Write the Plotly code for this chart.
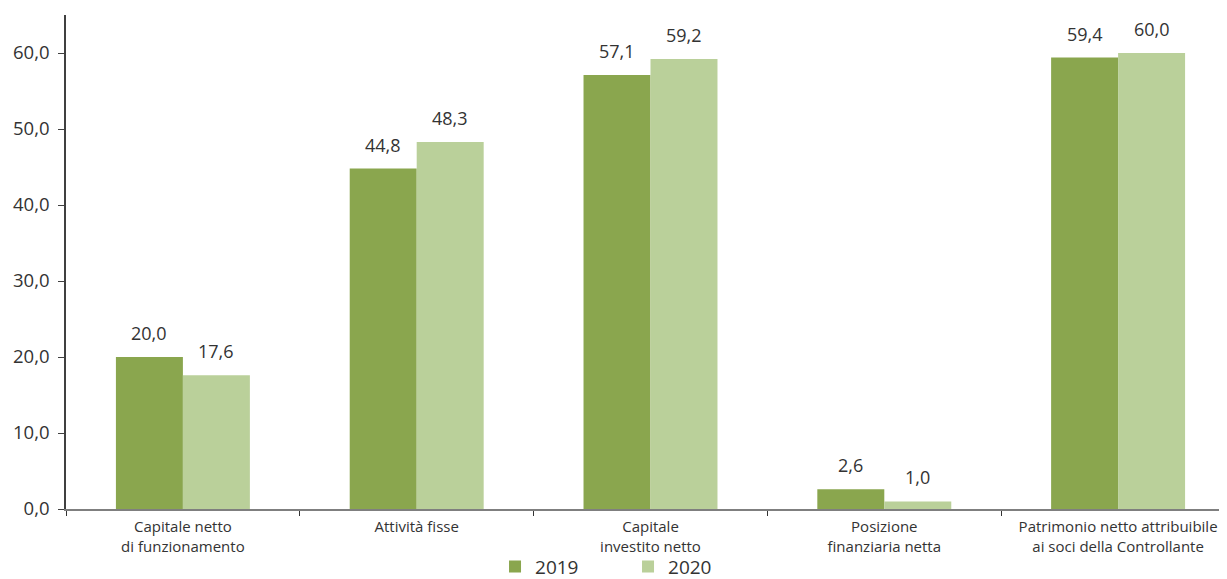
import plotly.graph_objects as go

categories = ["Capitale netto<br>di funzionamento", "Attività fisse",
              "Capitale<br>investito netto", "Posizione<br>finanziaria netta",
              "Patrimonio netto attribuibile<br>ai soci della Controllante"]
values_2019 = [20.0, 44.8, 57.1, 2.6, 59.4]
values_2020 = [17.6, 48.3, 59.2, 1.0, 60.0]
series_names = ["2019", "2020"]
colors = ["#8aa64e", "#bad09a"]
y_ticks = [0, 10, 20, 30, 40, 50, 60]

FONT = "Open Sans"
TXT = "#333333"
bargap = 0.427
half = (1 - bargap) / 4.0

fig = go.Figure()
for name, vals, col in zip(series_names, [values_2019, values_2020], colors):
    fig.add_trace(go.Bar(x=categories, y=vals, name=name, marker_color=col,
                         marker_line_width=0))

annotations = []
for k, vals in enumerate([values_2019, values_2020]):
    off = -half if k == 0 else half
    for i, v in enumerate(vals):
        annotations.append(dict(
            x=i + off, y=v, xref="x", yref="y", text=f"{v:.1f}".replace(".", ","),
            showarrow=False, yanchor="bottom", yshift=10,
            font=dict(family=FONT, size=18, color=TXT)))

fig.update_layout(
    width=1227, height=579,
    margin=dict(l=58, r=0, t=7, b=78, autoexpand=False),
    paper_bgcolor="white", plot_bgcolor="white",
    barmode="group", bargap=bargap, bargroupgap=0,
    separators=",.",
    font=dict(family=FONT, color=TXT),
    annotations=annotations,
    legend=dict(orientation="h", x=0.367, xanchor="left", y=-0.078,
                yanchor="top", font=dict(family=FONT, size=19, color=TXT),
                bgcolor="rgba(0,0,0,0)",
                entrywidth=88, itemwidth=30, traceorder="normal"),
    showlegend=True,
)
fig.update_xaxes(
    type="category", range=[-0.5, 4.5], automargin=False,
    showline=True, linecolor="#7f7f7f", linewidth=2,
    ticks="outside", tickson="boundaries", ticklen=5, tickcolor="#333333",
    tickfont=dict(family=FONT, size=15, color=TXT), ticklabelstandoff=3,
    showgrid=False, zeroline=False,
)
fig.update_yaxes(
    range=[0, 65], tickvals=y_ticks, tickformat=".1f", automargin=False,
    showline=True, linecolor="#404040", linewidth=1.5,
    ticks="outside", ticklen=6, tickcolor="#404040",
    tickfont=dict(family=FONT, size=18.5, color=TXT), ticklabelstandoff=5,
    showgrid=False, zeroline=False,
)

fig.write_html("out.html")
